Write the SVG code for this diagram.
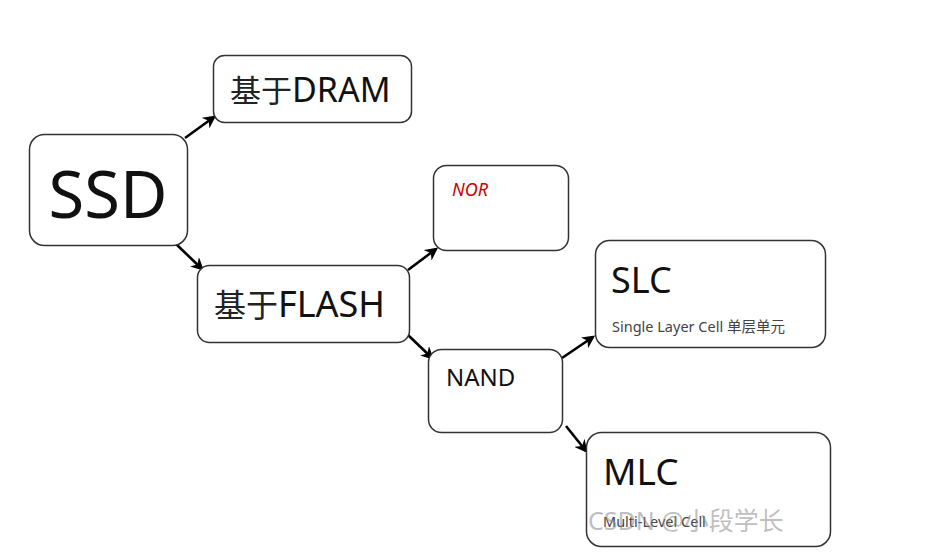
<svg xmlns="http://www.w3.org/2000/svg" width="944" height="553" viewBox="0 0 944 553">
<style>
.box{fill:#fff;stroke:#333;stroke-width:1.5}
.t{font-family:"Noto Sans","Noto Sans CJK SC",sans-serif;fill:#111}
.cjk{font-family:"Noto Sans CJK SC","Noto Sans",sans-serif;fill:#222}
.sm{font-family:"Noto Sans","Noto Sans CJK SC",sans-serif;fill:#444;font-size:14.5px}
.arr{stroke:#000;stroke-width:2.6;fill:none;marker-end:url(#ah)}
</style>
<defs>
<marker id="ah" viewBox="0 0 10 10" refX="8" refY="5" markerWidth="5" markerHeight="5" orient="auto" markerUnits="strokeWidth">
<path d="M0,0 L10,5 L0,10 L3,5 Z" fill="#000"/>
</marker>
</defs>
<rect width="944" height="553" fill="#fff"/>
<g id="connectors">
<line class="arr" x1="185" y1="138" x2="214" y2="117"/>
<line class="arr" x1="176" y1="244" x2="202" y2="269"/>
<line class="arr" x1="408" y1="270" x2="436" y2="249"/>
<line class="arr" x1="408" y1="335" x2="432" y2="358"/>
<line class="arr" x1="562" y1="358" x2="593" y2="337"/>
<line class="arr" x1="566" y1="426" x2="586" y2="451"/>
</g>
<g id="ssd">
<rect class="box" x="29.5" y="134.5" width="158" height="111" rx="15"/>
<text class="t" x="108" y="218" font-size="65" text-anchor="middle">SSD</text>
</g>
<g id="dram">
<rect class="box" x="213.5" y="55.5" width="198" height="67" rx="11"/>
<text x="230" y="102" font-size="34"><tspan class="cjk" font-size="31">基于</tspan><tspan class="t">DRAM</tspan></text>
</g>
<g id="nor">
<rect class="box" x="433.5" y="165.5" width="135" height="85" rx="13"/>
<text x="452" y="196" font-size="18" font-style="italic" font-family="Noto Sans, sans-serif" fill="#cc0000">NOR</text>
</g>
<g id="flash">
<rect class="box" x="197.5" y="265.5" width="212" height="77" rx="12"/>
<text x="214" y="317" font-size="36"><tspan class="cjk" font-size="32">基于</tspan><tspan class="t">FLASH</tspan></text>
</g>
<g id="nand">
<rect class="box" x="428.5" y="349.5" width="134" height="83" rx="13"/>
<text class="t" x="446" y="386" font-size="24">NAND</text>
</g>
<g id="slc">
<rect class="box" x="595.5" y="240.5" width="230" height="107" rx="14"/>
<text class="t" x="611" y="293" font-size="36">SLC</text>
<text class="sm" x="612" y="332">Single Layer Cell 单层单元</text>
</g>
<g id="mlc">
<rect class="box" x="586.5" y="432.5" width="244" height="114" rx="15"/>
<text class="t" x="603" y="485" font-size="37">MLC</text>
<text class="sm" x="603" y="527">Multi-Level Cell</text>
<text x="588" y="530" font-size="25" font-family="Noto Sans, Noto Sans CJK SC, sans-serif" fill="#888" fill-opacity="0.55">CSDN @小段学长</text>
</g>
</svg>
